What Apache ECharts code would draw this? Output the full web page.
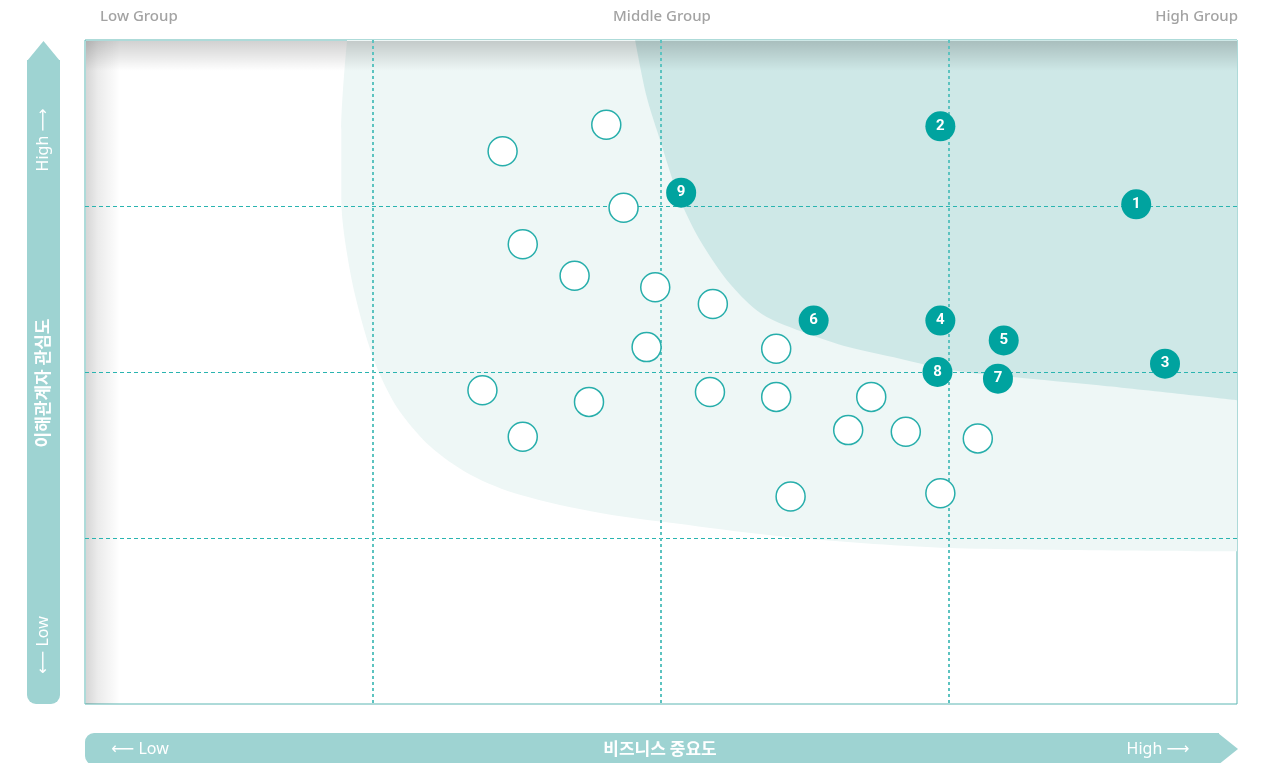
<!DOCTYPE html>
<html>
<head>
<meta charset="utf-8">
<title>Materiality Map</title>
<script src="https://cdn.jsdelivr.net/npm/echarts@6.0.0/dist/echarts.min.js"></script>
<style>
    html, body { margin: 0; padding: 0; background: #fff; }
    #chart { width: 1263px; height: 763px; }
</style>
</head>
<body>
<div id="chart"></div>
<script>
// 축 범위 (0~4, 4x4 그리드)
var axisMin = 0
var axisMax = 4

// 상단 그룹 라벨
var groupLabels = ['Low Group', 'Middle Group', 'High Group']

// 일반 이슈 (빈 원) [비즈니스 중요도, 이해관계자 관심도]
var otherIssues = [
    [1.45, 3.33], [1.81, 3.49], [1.87, 2.99], [1.52, 2.77], [1.70, 2.58],
    [1.98, 2.51], [2.18, 2.41], [1.95, 2.15], [2.40, 2.14], [1.38, 1.89],
    [1.75, 1.82], [2.17, 1.88], [2.40, 1.85], [2.73, 1.85], [1.52, 1.61],
    [2.65, 1.65], [2.85, 1.64], [3.10, 1.60], [2.45, 1.25], [2.97, 1.27]
]

// 핵심 이슈 (번호 원)
var keyIssueNo = ['1', '2', '3', '4', '5', '6', '7', '8', '9']
var keyIssueX = [3.65, 2.97, 3.75, 2.97, 3.19, 2.53, 3.17, 2.96, 2.07]
var keyIssueY = [3.01, 3.48, 2.05, 2.31, 2.19, 2.31, 1.96, 2.00, 3.08]

// Middle 영역 경계 (연한 색)
var middleEdge = [
    [0.91, 4.00], [0.89, 3.46], [0.89, 3.04], [0.92, 2.61], [0.97, 2.25],
    [1.02, 2.00], [1.09, 1.77], [1.20, 1.55], [1.34, 1.38], [1.51, 1.26],
    [1.79, 1.15], [2.13, 1.07], [2.48, 1.00], [3.00, 0.94], [4.00, 0.92]
]

// High 영역 경계 (진한 색)
var highEdge = [
    [1.91, 4.00], [1.95, 3.66], [2.00, 3.38], [2.04, 3.16], [2.07, 3.02],
    [2.14, 2.78], [2.24, 2.53], [2.35, 2.35], [2.51, 2.23], [2.65, 2.15],
    [2.83, 2.08], [3.01, 2.01], [3.22, 1.97], [3.52, 1.92], [4.00, 1.83]
]

;(function (echarts) {
    var chart = echarts.init(document.getElementById('chart'))

    var teal = '#00a39f'
    var barColor = '#9ed3d2'
    var labelFont = '"Noto Sans", "DejaVu Sans", sans-serif'
    var krFont = '"Noto Sans CJK KR", sans-serif'

    var keyIssues = keyIssueNo.map(function (no, i) {
        return { name: no, value: [keyIssueX[i], keyIssueY[i]] }
    })

    // 흰색 라벨 공통
    function barText (x, y, text, font, rotate) {
        return {
            type: 'text', x: x, y: y, rotation: rotate ? Math.PI / 2 : 0,
            style: { text: text, fill: '#fff', font: font, align: 'center', verticalAlign: 'middle' }
        }
    }

    // 그래프 바깥 장식 (화살표 바, 라벨)
    var graphics = [
        // 좌측 세로 화살표
        { type: 'polygon', shape: { points: [[27, 61], [43.5, 41], [60, 61]] }, style: { fill: barColor } },
        { type: 'rect', shape: { x: 27, y: 60, width: 33, height: 644, r: [0, 0, 9, 9] }, style: { fill: barColor } },
        barText(43, 140, 'High ⟶', '16px ' + labelFont, true),
        barText(43, 645, '⟵ Low', '16px ' + labelFont, true),
        barText(43, 383, '이해관계자 관심도', 'bold 17px ' + krFont, true),
        // 하단 가로 화살표
        { type: 'rect', shape: { x: 85, y: 733, width: 1134, height: 32, r: [9, 0, 0, 9] }, style: { fill: barColor } },
        { type: 'polygon', shape: { points: [[1218, 733], [1238, 749], [1218, 765]] }, style: { fill: barColor } },
        barText(140, 749, '⟵ Low', '16px ' + labelFont),
        barText(660, 749, '비즈니스 중요도', 'bold 17px ' + krFont),
        barText(1158, 749, 'High ⟶', '16px ' + labelFont),
        // 그래프 안쪽 그림자
        {
            type: 'rect', z: 3, silent: true,
            shape: { x: 86, y: 41, width: 34, height: 663 },
            style: { fill: new echarts.graphic.LinearGradient(0, 0, 1, 0, [
                { offset: 0, color: 'rgba(0,0,0,0.16)' },
                { offset: 0.35, color: 'rgba(0,0,0,0.08)' },
                { offset: 1, color: 'rgba(0,0,0,0)' }
            ]) }
        },
        {
            type: 'rect', z: 3, silent: true,
            shape: { x: 86, y: 41, width: 1151, height: 30 },
            style: { fill: new echarts.graphic.LinearGradient(0, 0, 0, 1, [
                { offset: 0, color: 'rgba(0,0,0,0.18)' },
                { offset: 1, color: 'rgba(0,0,0,0)' }
            ]) }
        }
    ]

    // 상단 그룹 라벨
    var groupAlign = ['left', 'center', 'right']
    var groupX = [100, 662, 1238]
    groupLabels.forEach(function (txt, i) {
        graphics.push({
            type: 'text', x: groupX[i], y: 17,
            style: { text: txt, fill: '#a3a3a3', font: '500 15px ' + labelFont, align: groupAlign[i], verticalAlign: 'middle' }
        })
    })

    // 세로선은 굵은 점선, 가로선은 가는 점선 (테두리 위치 선은 제외)
    function valueAxis (lineStyle) {
        return {
            type: 'value', min: axisMin, max: axisMax, interval: 1, z: 4,
            axisLine: { show: false }, axisTick: { show: false }, axisLabel: { show: false },
            splitLine: { show: true, showMinLine: false, showMaxLine: false, lineStyle: lineStyle }
        }
    }

    var option = {
        animation: false,
        grid: {
            left: 85, width: 1152, top: 40, height: 664,
            show: true, borderColor: '#5db6b3', borderWidth: 1, backgroundColor: '#fff'
        },
        xAxis: valueAxis({ color: '#5cc3c0', width: 2, type: [3, 3] }),
        yAxis: valueAxis({ color: '#2ab4b0', width: 1, type: [4, 3] }),
        graphic: graphics,
        series: [
            {
                name: 'middle', type: 'line', z: 1, smooth: 0.3, symbol: 'none', silent: true,
                lineStyle: { width: 0 },
                areaStyle: { origin: 'end', color: '#eef7f6', opacity: 1 },
                data: middleEdge
            },
            {
                name: 'high', type: 'line', z: 1, smooth: 0.3, symbol: 'none', silent: true,
                lineStyle: { width: 0 },
                areaStyle: { origin: 'end', color: '#cee8e7', opacity: 1 },
                data: highEdge
            },
            {
                name: 'issues', type: 'scatter', z: 5, symbolSize: 29,
                itemStyle: { color: '#fff', borderColor: '#27aeab', borderWidth: 1.5, opacity: 1 },
                data: otherIssues
            },
            {
                name: 'key', type: 'scatter', z: 6, symbolSize: 30,
                itemStyle: { color: teal, opacity: 1 },
                label: {
                    show: true, position: 'inside', formatter: '{b}',
                    color: '#fff', fontSize: 15, fontWeight: 'bold', fontFamily: 'Roboto'
                },
                data: keyIssues
            }
        ]
    }

    chart.setOption(option)
})(window.echarts)
</script>
</body>
</html>
